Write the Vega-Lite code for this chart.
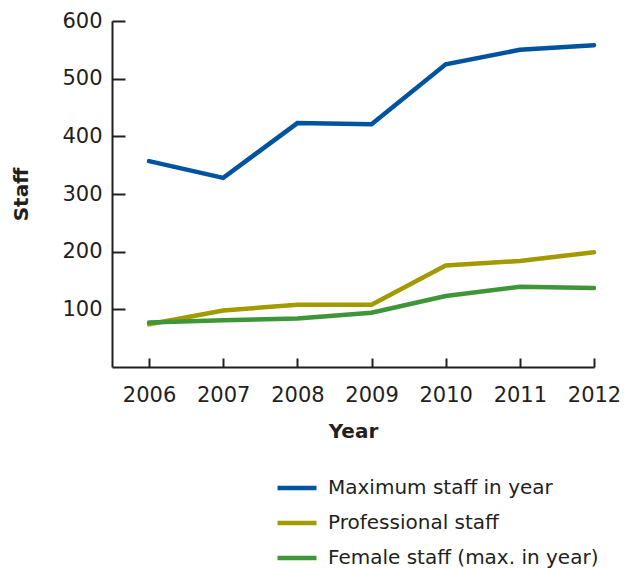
{
  "$schema": "https://vega.github.io/schema/vega-lite/v6.json",
  "autosize": "none",
  "width": 482,
  "height": 346,
  "padding": {"left": 112, "top": 21, "right": 30, "bottom": 202},
  "config": {
    "view": {"stroke": null},
    "font": "DejaVu Sans",
    "axis": {
      "labelFont": "DejaVu Sans",
      "labelFontSize": 21,
      "labelColor": "#231f20",
      "labelOverlap": false,
      "labelFlush": false,
      "labelLimit": 0,
      "titleFont": "DejaVu Sans",
      "titleFontSize": 20,
      "titleFontWeight": "bold",
      "titleColor": "#231f20",
      "domainColor": "#231f20",
      "domainWidth": 2,
      "tickColor": "#231f20",
      "tickWidth": 2,
      "grid": false
    },
    "legend": {
      "labelFont": "DejaVu Sans",
      "labelFontSize": 20,
      "labelColor": "#231f20",
      "labelLimit": 0
    }
  },
  "data": {
    "values": [
      {"Year": 2006, "Series": "Maximum staff in year", "Staff": 357},
      {"Year": 2007, "Series": "Maximum staff in year", "Staff": 328},
      {"Year": 2008, "Series": "Maximum staff in year", "Staff": 423},
      {"Year": 2009, "Series": "Maximum staff in year", "Staff": 421},
      {"Year": 2010, "Series": "Maximum staff in year", "Staff": 525},
      {"Year": 2011, "Series": "Maximum staff in year", "Staff": 550},
      {"Year": 2012, "Series": "Maximum staff in year", "Staff": 558},
      {"Year": 2006, "Series": "Professional staff", "Staff": 74},
      {"Year": 2007, "Series": "Professional staff", "Staff": 98},
      {"Year": 2008, "Series": "Professional staff", "Staff": 108},
      {"Year": 2009, "Series": "Professional staff", "Staff": 108},
      {"Year": 2010, "Series": "Professional staff", "Staff": 176},
      {"Year": 2011, "Series": "Professional staff", "Staff": 184},
      {"Year": 2012, "Series": "Professional staff", "Staff": 199},
      {"Year": 2006, "Series": "Female staff (max. in year)", "Staff": 77},
      {"Year": 2007, "Series": "Female staff (max. in year)", "Staff": 81},
      {"Year": 2008, "Series": "Female staff (max. in year)", "Staff": 84},
      {"Year": 2009, "Series": "Female staff (max. in year)", "Staff": 94},
      {"Year": 2010, "Series": "Female staff (max. in year)", "Staff": 123},
      {"Year": 2011, "Series": "Female staff (max. in year)", "Staff": 139},
      {"Year": 2012, "Series": "Female staff (max. in year)", "Staff": 137}
    ]
  },
  "mark": {"type": "line", "strokeWidth": 4.5, "strokeCap": "round", "strokeJoin": "miter"},
  "encoding": {
    "x": {
      "field": "Year",
      "type": "quantitative",
      "scale": {"domain": [2005.5, 2012], "nice": false, "zero": false},
      "axis": {
        "title": "Year",
        "values": [2006, 2007, 2008, 2009, 2010, 2011, 2012],
        "format": "d",
        "tickSize": -9,
        "labelPadding": 26,
        "titlePadding": 16
      }
    },
    "y": {
      "field": "Staff",
      "type": "quantitative",
      "scale": {"domain": [0, 600], "nice": false},
      "axis": {
        "title": "Staff",
        "values": [100, 200, 300, 400, 500, 600],
        "tickSize": -13,
        "labelPadding": 23,
        "titlePadding": 30
      }
    },
    "color": {
      "field": "Series",
      "type": "nominal",
      "scale": {
        "domain": ["Maximum staff in year", "Professional staff", "Female staff (max. in year)"],
        "range": ["#00549f", "#a39a00", "#3f9639"]
      },
      "legend": {
        "title": null,
        "orient": "none",
        "legendX": 173,
        "legendY": 455,
        "padding": 0,
        "symbolType": "M-2,0H2",
        "symbolSize": 380,
        "symbolStrokeWidth": 4.5,
        "labelOffset": 19,
        "rowPadding": 13
      }
    }
  }
}
